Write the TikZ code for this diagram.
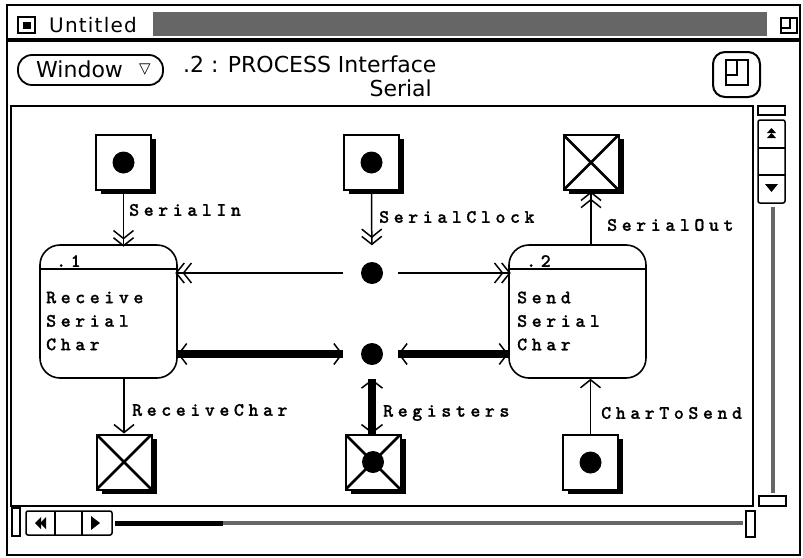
\documentclass[tikz,border=0pt]{standalone}
\usepackage{fontspec}
\setmainfont{DejaVu Sans}
\newfontfamily\labfam{lmmonolt10-bold.otf}[LetterSpace=24,FakeBold=0.8]
\newcommand\labfont{\labfam\fontsize{19}{23.5}\selectfont}
\usetikzlibrary{arrows.meta,shadows}
\begin{document}
\begin{tikzpicture}[x=1pt,y=-1pt,
  store/.style={draw,line width=2pt,fill=white,minimum size=55pt,inner sep=0pt,
     general shadow={fill=black,shadow xshift=5pt,shadow yshift=-4pt}},
  xcross/.style={path picture={\draw[line width=2.6pt]
     (path picture bounding box.north west)--(path picture bounding box.south east)
     (path picture bounding box.south west)--(path picture bounding box.north east);}},
  blob/.style={circle,fill=black,minimum size=22pt,inner sep=0pt},
  proc/.style={draw,line width=1.6pt,rounded corners=20pt,minimum width=137pt,minimum height=133pt,inner sep=0pt},
  conn/.style={line width=1.5pt},
  heavy/.style={line width=8.5pt},
  dblhead/.style={-{Straight Barb[length=8pt,width=20pt,sep=-2.5pt] Straight Barb[length=8pt,width=20pt,sep=-2.5pt]}},
  onehead/.style={-{Straight Barb[length=8pt,width=20pt]}},
  twoheads/.style={{Straight Barb[length=8pt,width=21pt]}-{Straight Barb[length=8pt,width=21pt]}},
  lab/.style={font=\labfont,inner sep=0pt,anchor=west,align=left},
  ui/.style={inner sep=0pt},
  frame/.style={line width=1.5pt},
  stip/.style={black!60}
]
\useasboundingbox[fill=white] (0,0) rectangle (803,557);

% ---------- window chrome ----------
\draw[line width=2pt] (7,5) rectangle (800,555);
\draw[line width=4pt] (7,40) -- (800,40);
\fill[stip] (153,12) rectangle (767,36);
\draw[frame] (18,17) rectangle (35,33);
\fill (22.5,21.5) rectangle (30.5,29);
\node[ui,anchor=west,font=\fontsize{20}{24}\selectfont\addfontfeatures{LetterSpace=6}] (ttl) at (49,25) {Untitled};
\draw[line width=1.8pt] (781,18) rectangle (797,33);
\draw[line width=1.8pt] (781,28) -- (790,28) -- (790,18);

\draw[line width=1.8pt,rounded corners=14pt] (18,55) rectangle (163,85);
\node[ui,anchor=west,font=\fontsize{22}{26}\selectfont] (win) at (36,69) {Window};
\node[ui,font=\fontsize{15}{18}\selectfont] (wtri) at (145,70) {▽};
\node[ui,anchor=west,font=\fontsize{22}{26}\selectfont] (ttl2) at (183,64) {.2 : PROCESS Interface};
\node[ui,anchor=east,font=\fontsize{22}{26}\selectfont] (ttl3) at (432,88) {Serial};
\draw[line width=2pt,rounded corners=12pt] (713,52) rectangle (760,97);
\draw[line width=2.5pt] (726,60) rectangle (748,85);
\draw[line width=2.5pt] (726,75) -- (737,75) -- (737,60);

% canvas
\draw[frame] (11,106) rectangle (753,506);
\draw[line width=2.5pt] (11,506) -- (753,506);

% vertical scroll bar
\draw[frame] (758,106) rectangle (785,115);
\draw[frame,rounded corners=2pt] (758,120) rectangle (785,203);
\draw[frame] (758,148) -- (785,148) (758,175) -- (785,175);
\fill (767,133) -- (771.5,128) -- (776,133) -- cycle;
\fill (767,138) -- (771.5,133) -- (776,138) -- cycle;
\fill (765,184) -- (778,184) -- (771.5,192) -- cycle;
\draw[stip,line width=4pt] (772.5,207) -- (772.5,493);
\draw[frame] (759,496) rectangle (786,506);

% horizontal scroll bar
\draw[frame] (12,508) rectangle (20,536);
\draw[frame,rounded corners=2pt] (26,511) rectangle (112,535);
\draw[frame] (55,511) -- (55,535) (82,511) -- (82,535);
\fill (35,523) -- (41,517) -- (41,529) -- cycle;
\fill (40,523) -- (46,517) -- (46,529) -- cycle;
\fill (91,516) -- (100,523) -- (91,530) -- cycle;
\draw[line width=5pt] (115,523) -- (223,523);
\draw[stip,line width=4pt] (223,523) -- (743,523);
\draw[frame] (746,511) rectangle (755,537);

% ---------- diagram ----------
\node[store] (sin) at (123.5,162.5) {};
\node[blob] (sindot) at (sin) {};
\node[store] (sclk) at (371.5,162.5) {};
\node[blob] (sclkdot) at (sclk) {};
\node[store,xcross] (sout) at (591,162.5) {};
\node[store,xcross] (rc) at (124,462) {};
\node[store,xcross] (reg) at (373,462) {};
\node[blob] (regdot) at (reg) {};
\node[store] (cts) at (590.5,462.5) {};
\node[blob] (ctsdot) at (cts) {};

\node[proc] (p1) at (108.5,311.5) {};
\node[proc] (p2) at (577.5,311.5) {};
\draw[line width=1.5pt] ([yshift=-25pt]p1.north west) -- ([yshift=-25pt]p1.north east);
\draw[line width=1.5pt] ([yshift=-25pt]p2.north west) -- ([yshift=-25pt]p2.north east);
\node[lab] (p1n) at (56,261) {.1};
\node[lab] (p2n) at (526,261) {.2};
\node[lab] (p1t) at (46,321) {Receive\\Serial\\Char};
\node[lab] (p2t) at (517,321) {Send\\Serial\\Char};

\node[blob] (j1) at (372,273) {};
\node[blob] (j2) at (372,354) {};

% flows
\draw[conn,dblhead] (sin.south) -- (sin.south |- p1.north);
\draw[conn,dblhead,shorten >=19pt] (sclk.south) -- (j1);
\draw[conn,dblhead,shorten <=18pt] (j1) -- (j1 -| p1.east);
\draw[conn,dblhead,shorten <=15pt] (j1) -- (j1 -| p2.west);
\draw[conn,dblhead,shorten >=3pt] (sout.south |- p2.north) -- (sout.south);
\draw[conn,onehead] (rc.north |- p1.south) -- (rc.north);
\draw[conn,onehead] (cts.north) -- (cts.north |- p2.south);

\draw[heavy,shorten <=18pt] (j2) -- (j2 -| p1.east);
\draw[conn,twoheads,shorten <=18pt] (j2) -- (j2 -| p1.east);
\draw[heavy,shorten <=15pt] (j2) -- (j2 -| p2.west);
\draw[conn,twoheads,shorten <=15pt] (j2) -- (j2 -| p2.west);
\draw[heavy,shorten <=14pt] (j2) -- (j2 |- reg.north);
\draw[conn,twoheads,shorten <=14pt] (j2) -- (j2 |- reg.north);

\node[lab] (lsin) at (129,210) {SerialIn};
\node[lab] (lclk) at (379,217) {SerialClock};
\node[lab] (lout) at (607,225) {SerialOut};
\node[lab] (lrc) at (132,410) {ReceiveChar};
\node[lab] (lreg) at (383,413) {Registers};
\node[lab] (lcts) at (601,413) {CharToSend};
\end{tikzpicture}
\end{document}
